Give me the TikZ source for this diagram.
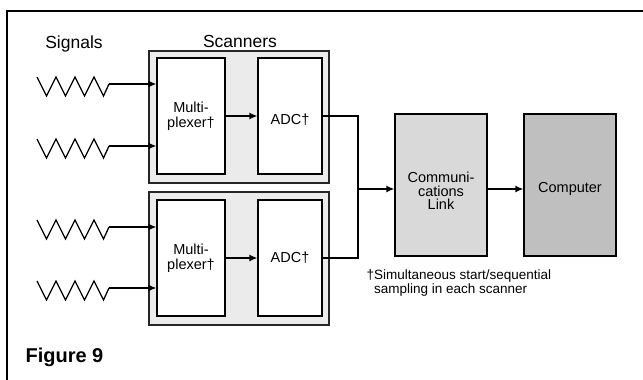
\documentclass[tikz,border=0pt]{standalone}
\usepackage{fontspec}
\setmainfont{Liberation Sans}
\usetikzlibrary{arrows.meta}

\tikzset{
  unitbox/.style={draw, line width=1.3pt, fill=white, minimum height=116pt,
    inner sep=0pt, align=center, font=\fontsize{14.5}{14.5}\selectfont},
  scanbox/.style={draw=black!85, line width=1.7pt, fill=black!8,
    minimum width=180pt, minimum height=132pt, inner sep=0pt},
  bigbox/.style={draw, line width=1.3pt, minimum width=92pt, minimum height=142pt,
    inner sep=0pt, align=center, font=\fontsize{14.5}{13.5}\selectfont},
  wave/.style={line width=1.3pt, line join=miter},
  wire/.style={line width=1.3pt},
  arr/.style={wire, -{Latex[length=8pt,width=7pt]}},
  heading/.style={font=\fontsize{17.5}{18}\selectfont},
}

\begin{document}
\begin{tikzpicture}[x=1pt,y=-1pt]
  \useasboundingbox (0,0) rectangle (643,380);
  \draw [line width=1.2pt] (7,380) -- (7,11) -- (643,11);

  % scanners
  \node [scanbox] (scan1) at (239,117) {};
  \node [scanbox, minimum height=133pt] (scan2) at (239,258.5) {};
  \node [unitbox, minimum width=68pt] (mux1) at (191,116) {Multi-\\plexer†};
  \node [unitbox, minimum width=64pt] (adc1) at (290,116) {\rule{0pt}{18pt}ADC†};
  \node [unitbox, minimum width=68pt] (mux2) at (191,258) {Multi-\\plexer†};
  \node [unitbox, minimum width=64pt] (adc2) at (290,258) {ADC†};
  \draw [arr] (mux1) -- (adc1);
  \draw [arr] (mux2) -- (adc2);

  \node [bigbox, fill=black!15] (link) at (441,185) {\rule{0pt}{22pt}Communi-\\cations\\Link};
  \node [bigbox, fill=black!25] (comp) at (570,185) {\rule{0pt}{18pt}Computer};

  % signals
  \foreach \y/\n/\m in {84/a/1, 146/b/1, 227/c/2, 288/d/2} {
    \draw [wave] (37,\y-7) -- ++(9.5,19) -- ++(9.5,-19) -- ++(9.5,19) -- ++(9.5,-19)
      -- ++(9.5,19) -- ++(9.5,-19) -- ++(9.5,19) -- ++(5.5,-12) coordinate (w\n);
    \draw [arr] (w\n) -- (w\n -| mux\m.west);
  }

  \coordinate (bus) at (358,189);
  \draw [wire] (adc1.east) -| (bus) |- (adc2.east);
  \draw [arr] (bus) -- (bus -| link.west);
  \draw [arr] (link.east |- bus) -- (comp.west |- bus);

  \node [heading, anchor=base] (sig) at (74,48) {Signals};
  \node [heading, anchor=base] (scn) at (240,47) {Scanners};
  \node [anchor=base west, align=left, font=\fontsize{13.5}{14}\selectfont] (note) at (363,293)
    {†Simultaneous start/sequential\\\phantom{†}sampling in each scanner};
  \node [anchor=base west, font=\bfseries\fontsize{20}{22}\selectfont] (fig) at (22,362) {Figure 9};
\end{tikzpicture}
\end{document}
